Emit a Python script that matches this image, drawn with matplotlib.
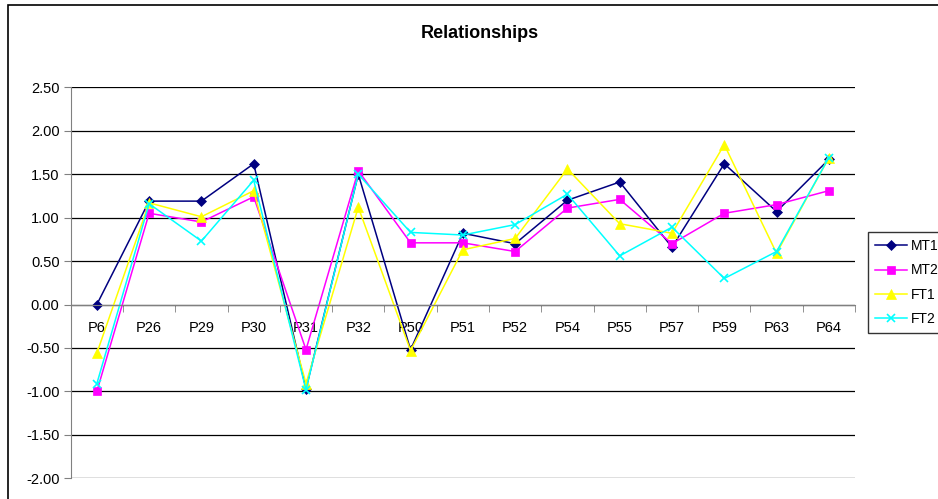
import numpy as np
import matplotlib
matplotlib.use("Agg")
import matplotlib.pyplot as plt
from matplotlib.patches import Rectangle

plt.rcParams['font.family'] = ['Liberation Sans', 'DejaVu Sans']
plt.rcParams['axes.unicode_minus'] = False

# Data
##########################################
categories = ['P6', 'P26', 'P29', 'P30', 'P31', 'P32', 'P50', 'P51',
              'P52', 'P54', 'P55', 'P57', 'P59', 'P63', 'P64']
mt1 = [0.00, 1.19, 1.19, 1.62, -0.97, 1.50, -0.52, 0.82, 0.70, 1.20, 1.41, 0.66, 1.62, 1.07, 1.67]
mt2 = [-1.00, 1.05, 0.95, 1.24, -0.52, 1.54, 0.71, 0.71, 0.61, 1.11, 1.21, 0.70, 1.05, 1.15, 1.31]
ft1 = [-0.56, 1.17, 1.01, 1.31, -0.91, 1.12, -0.53, 0.63, 0.76, 1.56, 0.93, 0.82, 1.84, 0.59, 1.69]
ft2 = [-0.91, 1.16, 0.73, 1.43, -0.98, 1.50, 0.83, 0.80, 0.92, 1.27, 0.56, 0.89, 0.30, 0.61, 1.69]
y_ticks = [-2.0, -1.5, -1.0, -0.5, 0.0, 0.5, 1.0, 1.5, 2.0, 2.5]

series = [
    ('MT1', mt1, '#000080', 'D', 5),
    ('MT2', mt2, '#FF00FF', 's', 6),
    ('FT1', ft1, '#FFFF00', '^', 7),
    ('FT2', ft2, '#00FFFF', 'x', 6),
]

# Figure
##########################################
fig = plt.figure(figsize=(9.38, 4.99), dpi=100)
ax = fig.add_axes([70.7 / 938, 1 - 478.3 / 499, (855 - 70.7) / 938, (478.3 - 87.3) / 499])

# outer chart border (runs off right and bottom)
fig.patches.append(Rectangle((8 / 938, -0.2), 1.2, 1.2 - 5 / 499,
                             transform=fig.transFigure, fill=False,
                             edgecolor='black', linewidth=1.2))

x = np.arange(len(categories))
for name, vals, color, marker, ms in series:
    ax.plot(x, vals, color=color, marker=marker, markersize=ms, linewidth=1.1,
            markeredgewidth=1.2 if marker == 'x' else 0.5, label=name, clip_on=False)

ax.set_xlim(-0.5, len(categories) - 0.5)
ax.set_ylim(-2.0, 2.5)
ax.set_yticks(y_ticks)
ax.set_yticklabels(['%.2f' % v for v in y_ticks], fontsize=10.5)
ax.grid(axis='y', color='black', linewidth=0.9)
ax.set_axisbelow(True)

# x axis crosses at zero, ticks between categories
ax.spines['bottom'].set_position(('data', 0))
ax.spines['bottom'].set_color('#808080')
ax.spines['left'].set_color('#808080')
ax.spines['top'].set_visible(False)
ax.spines['right'].set_visible(False)
ax.set_xticks(x)
ax.set_xticklabels(categories, fontsize=10.5)
ax.set_xticks(np.arange(len(categories) + 1) - 0.5, minor=True)
ax.tick_params(axis='x', which='major', length=0, pad=12)
ax.tick_params(axis='x', which='minor', length=5, color='#808080', direction='out')
ax.tick_params(axis='y', length=5, color='#808080', direction='out', pad=3)

fig.text(480 / 938, 1 - 33 / 499, 'Relationships', ha='center', va='center',
         fontsize=13, fontweight='bold')

leg = fig.legend(loc='upper left', bbox_to_anchor=(868 / 938, 1 - 232 / 499),
                 fontsize=10, frameon=True, fancybox=False, handlelength=2.3,
                 handletextpad=0.3, labelspacing=0.75, borderpad=0.5,
                 borderaxespad=0)
leg.get_frame().set_edgecolor('black')
leg.get_frame().set_linewidth(1)

fig.savefig('out.png', dpi=100)
